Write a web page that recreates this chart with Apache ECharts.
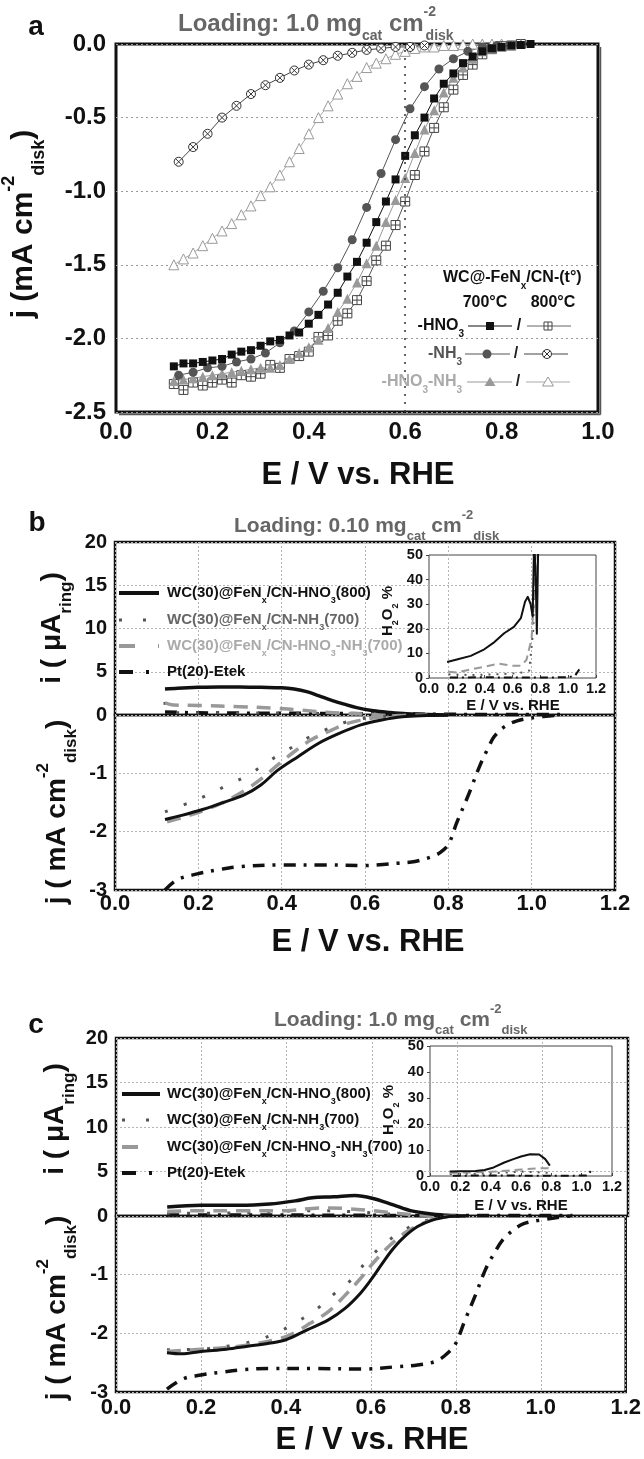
<!DOCTYPE html>
<html><head><meta charset="utf-8">
<script src="https://cdn.jsdelivr.net/npm/echarts/dist/echarts.min.js"></script>
<style>html,body{margin:0;padding:0;background:#fff}#c{width:644px;height:1459px}</style>
</head><body><div id="c"></div>
<script>
const FONT = '"Liberation Sans", Arial, Helvetica, sans-serif';

// ---------- Panel a data (E / V, j / mA cm-2) ----------
const aX38 = [0.12,0.14,0.16,0.18,0.20,0.22,0.24,0.26,0.28,0.30,0.32,0.34,0.36,0.38,0.40,0.42,0.44,0.46,0.48,0.50,0.52,0.54,0.56,0.58,0.60,0.62,0.64,0.66,0.68,0.70,0.72,0.74,0.76,0.78,0.80,0.82,0.84,0.86];
const aX37 = [0.12,0.14,0.16,0.18,0.20,0.22,0.24,0.26,0.28,0.30,0.32,0.34,0.36,0.38,0.40,0.42,0.44,0.46,0.48,0.50,0.52,0.54,0.56,0.58,0.60,0.62,0.64,0.66,0.68,0.70,0.72,0.74,0.76,0.78,0.80,0.82,0.84];
const aX35 = [0.12,0.14,0.16,0.18,0.20,0.22,0.24,0.26,0.28,0.30,0.32,0.34,0.36,0.38,0.40,0.42,0.44,0.46,0.48,0.50,0.52,0.54,0.56,0.58,0.60,0.62,0.64,0.66,0.68,0.70,0.72,0.74,0.76,0.78,0.80];
const aXNH3_700 = [0.13,0.16,0.19,0.22,0.25,0.28,0.31,0.34,0.37,0.40,0.43,0.46,0.49,0.52,0.55,0.58,0.61,0.64,0.67,0.70,0.73,0.76,0.79];
const aXNH3_800 = [0.13,0.16,0.19,0.22,0.25,0.28,0.31,0.34,0.37,0.40,0.43,0.46,0.49,0.52,0.55,0.58,0.61,0.64];

const aHNO3_700 = [-2.19,-2.17,-2.17,-2.16,-2.15,-2.14,-2.11,-2.09,-2.08,-2.05,-2.02,-2.01,-1.98,-1.96,-1.90,-1.84,-1.77,-1.69,-1.58,-1.48,-1.35,-1.21,-1.07,-0.92,-0.76,-0.62,-0.50,-0.37,-0.27,-0.20,-0.13,-0.085,-0.05,-0.03,-0.02,-0.01,-0.007,0];
const aHNO3_800 = [-2.31,-2.35,-2.30,-2.32,-2.30,-2.28,-2.30,-2.25,-2.26,-2.24,-2.18,-2.20,-2.14,-2.12,-2.09,-1.99,-1.98,-1.88,-1.83,-1.74,-1.61,-1.47,-1.37,-1.23,-1.07,-0.89,-0.73,-0.57,-0.43,-0.31,-0.21,-0.14,-0.07,-0.035,-0.015,-0.01,0];
const aHN_700 = [-2.29,-2.28,-2.27,-2.26,-2.25,-2.24,-2.23,-2.22,-2.21,-2.20,-2.20,-2.18,-2.14,-2.10,-2.06,-2.01,-1.93,-1.82,-1.73,-1.62,-1.49,-1.37,-1.21,-1.06,-0.91,-0.74,-0.58,-0.45,-0.33,-0.23,-0.16,-0.10,-0.05,-0.03,-0.02,-0.01,0];
const aHN_800 = [-1.50,-1.46,-1.42,-1.37,-1.32,-1.27,-1.22,-1.16,-1.10,-1.03,-0.97,-0.89,-0.80,-0.71,-0.61,-0.50,-0.42,-0.34,-0.27,-0.22,-0.16,-0.13,-0.10,-0.07,-0.05,-0.03,-0.02,-0.02,-0.01,-0.01,-0.005,0,0,0,0];
const aNH3_700 = [-2.25,-2.23,-2.20,-2.19,-2.16,-2.14,-2.10,-2.03,-1.95,-1.82,-1.68,-1.52,-1.33,-1.11,-0.88,-0.65,-0.44,-0.29,-0.17,-0.10,-0.05,-0.02,-0.01];
const aNH3_800 = [-0.80,-0.70,-0.61,-0.50,-0.42,-0.34,-0.28,-0.23,-0.18,-0.14,-0.11,-0.08,-0.06,-0.04,-0.03,-0.02,-0.02,-0.01];

// ---------- Panel b data ----------
const bRing_HNO3 = [[0.12,3.0],[0.15,3.1],[0.2,3.2],[0.25,3.25],[0.3,3.25],[0.35,3.2],[0.4,3.15],[0.43,3.0],[0.46,2.7],[0.49,2.2],[0.52,1.7],[0.55,1.25],[0.58,0.85],[0.62,0.5],[0.66,0.3],[0.7,0.15],[0.75,0.05],[0.8,0.0]];
const bRing_NH3 = [[0.12,1.5],[0.125,0.3],[0.2,0.25],[0.3,0.25],[0.4,0.22],[0.5,0.18],[0.6,0.1],[0.7,0.05],[0.8,0]];
const bRing_HN = [[0.12,1.4],[0.14,1.15],[0.2,1.1],[0.3,0.95],[0.38,0.8],[0.45,0.55],[0.5,0.35],[0.55,0.2],[0.62,0.08],[0.7,0.02],[0.8,0]];
const bRing_Pt = [[0.12,0.35],[0.2,0.25],[0.4,0.2],[0.6,0.15],[0.8,0.08],[1.0,0.05],[1.07,0.05]];
const bDisk_HNO3 = [[0.12,-1.79],[0.16,-1.72],[0.21,-1.62],[0.26,-1.50],[0.31,-1.37],[0.35,-1.20],[0.39,-0.95],[0.44,-0.71],[0.49,-0.48],[0.54,-0.31],[0.59,-0.17],[0.64,-0.085],[0.69,-0.03],[0.75,-0.01],[0.8,0]];
const bDisk_NH3 = [[0.12,-1.66],[0.165,-1.54],[0.22,-1.38],[0.265,-1.22],[0.32,-1.03],[0.367,-0.80],[0.414,-0.60],[0.46,-0.40],[0.51,-0.24],[0.56,-0.11],[0.62,-0.04],[0.7,-0.01],[0.8,0]];
const bDisk_HN = [[0.125,-1.83],[0.17,-1.74],[0.22,-1.62],[0.27,-1.46],[0.31,-1.30],[0.35,-1.10],[0.39,-0.86],[0.43,-0.63],[0.47,-0.43],[0.52,-0.26],[0.56,-0.14],[0.62,-0.05],[0.68,-0.01],[0.75,0]];
const bDisk_Pt = [[0.12,-3.0],[0.15,-2.82],[0.2,-2.72],[0.25,-2.65],[0.3,-2.6],[0.4,-2.57],[0.5,-2.57],[0.6,-2.58],[0.65,-2.56],[0.68,-2.54],[0.72,-2.51],[0.76,-2.43],[0.78,-2.36],[0.8,-2.22],[0.82,-1.85],[0.85,-1.34],[0.875,-0.88],[0.9,-0.5],[0.91,-0.37],[0.935,-0.2],[0.965,-0.1],[1.0,-0.05],[1.07,0]];
const ibHNO3 = [[0.13,6.5],[0.2,7.5],[0.3,9],[0.39,11.4],[0.47,14.6],[0.54,18.2],[0.61,20.8],[0.66,24.3],[0.69,31],[0.71,33],[0.73,30],[0.745,25],[0.755,55],[0.765,45],[0.775,18],[0.785,55]];
const ibHN = [[0.14,2.5],[0.2,2.2],[0.3,3.5],[0.4,4.6],[0.5,5.8],[0.6,5],[0.66,5],[0.7,7.3],[0.737,16],[0.755,32],[0.77,55]];
const ibNH3 = [[0.14,1.5],[0.3,1.2],[0.5,1.5],[0.65,2],[0.72,3],[0.75,20],[0.76,55]];
const ibPt = [[0.15,0.2],[0.4,0.3],[0.6,0.2],[0.8,0.2],[1.0,0.3],[1.05,1],[1.08,3.5]];

// ---------- Panel c data ----------
const cRing_HNO3 = [[0.12,1.0],[0.2,1.2],[0.29,1.2],[0.36,1.35],[0.42,1.7],[0.46,2.05],[0.51,2.15],[0.56,2.3],[0.6,2.0],[0.65,1.25],[0.69,0.6],[0.74,0.22],[0.785,0.04],[0.82,0]];
const cRing_NH3 = [[0.12,0.3],[0.3,0.35],[0.45,0.6],[0.55,0.5],[0.65,0.2],[0.78,0]];
const cRing_HN = [[0.12,0.5],[0.2,0.6],[0.3,0.6],[0.4,0.6],[0.46,0.85],[0.5,0.9],[0.55,0.8],[0.6,0.6],[0.65,0.35],[0.7,0.15],[0.78,0]];
const cRing_Pt = [[0.12,0.1],[0.4,0.1],[0.8,0.05],[1.07,0.05]];
const cDisk_HNO3 = [[0.12,-2.33],[0.155,-2.35],[0.2,-2.31],[0.26,-2.27],[0.31,-2.22],[0.36,-2.17],[0.4,-2.11],[0.45,-1.94],[0.5,-1.77],[0.54,-1.57],[0.575,-1.32],[0.6,-1.09],[0.625,-0.83],[0.65,-0.58],[0.675,-0.38],[0.71,-0.18],[0.745,-0.07],[0.785,-0.01],[0.81,0]];
const cDisk_NH3 = [[0.12,-2.28],[0.2,-2.27],[0.28,-2.2],[0.32,-2.14],[0.37,-2.02],[0.42,-1.83],[0.47,-1.6],[0.515,-1.32],[0.558,-1.06],[0.592,-0.75],[0.633,-0.47],[0.675,-0.25],[0.72,-0.1],[0.77,-0.02],[0.8,0]];
const cDisk_HN = [[0.12,-2.31],[0.2,-2.27],[0.29,-2.22],[0.38,-2.10],[0.42,-1.99],[0.457,-1.83],[0.5,-1.63],[0.537,-1.37],[0.575,-1.07],[0.608,-0.78],[0.645,-0.50],[0.684,-0.27],[0.73,-0.10],[0.77,-0.01],[0.8,0]];
const cDisk_Pt = [[0.12,-2.95],[0.16,-2.77],[0.2,-2.71],[0.25,-2.66],[0.3,-2.62],[0.36,-2.6],[0.47,-2.6],[0.58,-2.61],[0.66,-2.57],[0.71,-2.54],[0.755,-2.47],[0.785,-2.31],[0.8,-2.17],[0.822,-1.77],[0.845,-1.37],[0.87,-0.91],[0.89,-0.64],[0.91,-0.41],[0.935,-0.24],[0.96,-0.13],[1.0,-0.07],[1.045,-0.02],[1.07,0]];
const icHNO3 = [[0.13,1.7],[0.2,1.8],[0.3,1.9],[0.36,2.3],[0.42,3.3],[0.49,5.2],[0.55,6.5],[0.6,7.5],[0.66,8.4],[0.72,8.3],[0.76,6.5],[0.79,4]];
const icHN = [[0.13,1.2],[0.2,1.3],[0.3,1.4],[0.4,1.6],[0.5,2],[0.6,2.5],[0.7,2.9],[0.78,3],[0.8,2.5]];
const icNH3 = [[0.13,0.8],[0.3,0.9],[0.5,1.3],[0.6,1.7],[0.7,1.5],[0.78,1.2]];
const icPt = [[0.15,0.1],[0.4,0.2],[0.7,0.1],[0.9,0.1],[1.03,0.2],[1.05,1],[1.07,3]];

function zip(xs, ys){ return xs.map((x,i)=>[x, ys[i]]); }

const GRID_DOT = {color:'#b5b5b5', type:[2,2], width:1};
const SYM_BOX = 'path://M0,0L10,0L10,10L0,10Z M5,0L5,10 M0,5L10,5';
const SYM_OX = 'path://M10,5A5,5,0,1,1,0,5A5,5,0,1,1,10,5Z M1.46,1.46L8.54,8.54 M8.54,1.46L1.46,8.54';

const grids = [
  {left:116, top:44, width:482, height:368, show:true, borderColor:'#111', borderWidth:3},
  {left:115, top:542, width:500, height:173, show:true, borderColor:'#111', borderWidth:2.5},
  {left:115, top:715, width:500, height:175, show:true, borderColor:'#111', borderWidth:2.5},
  {left:429, top:555, width:167, height:123, show:true, borderColor:'#444', borderWidth:1},
  {left:116, top:1038, width:512, height:178, show:true, borderColor:'#111', borderWidth:2.5},
  {left:116, top:1216, width:512, height:176, show:true, borderColor:'#111', borderWidth:2.5},
  {left:430, top:1046, width:182, height:130, show:true, borderColor:'#444', borderWidth:1}
];

function lab(size, margin, fmt, extra){
  return Object.assign({show:true, fontFamily:FONT, fontWeight:'bold', fontSize:size, color:'#111', margin, formatter:fmt}, extra||{});
}
const f1 = v => (Math.abs(v) < 1e-9 ? 0 : v).toFixed(1);
const f0 = v => String(Math.round(v));

function ax(gi, min, max, interval, label, split, tick){
  return {type:'value', gridIndex:gi, min, max, interval,
    axisLine:{show:false},
    axisTick: tick || {show:false},
    axisLabel: label || {show:false},
    splitLine: split ? {show:true, lineStyle:split} : {show:false}};
}

const xAxis = [
  ax(0, 0, 1, 0.2, lab(24, 8, f1)),
  ax(1, 0, 1.2, 0.2, null, GRID_DOT),
  ax(2, 0, 1.2, 0.2, lab(22, 3, f1), GRID_DOT),
  ax(3, 0, 1.2, 0.2, lab(14.5, 3, f1), null, {show:true, inside:true, length:3, lineStyle:{color:'#444'}}),
  ax(4, 0, 1.2, 0.2, null, GRID_DOT),
  ax(5, 0, 1.2, 0.2, lab(22, 5, f1), GRID_DOT),
  ax(6, 0, 1.2, 0.2, lab(14.5, 3, f1), null, {show:true, inside:true, length:3, lineStyle:{color:'#444'}})
];
const yAxis = [
  ax(0, -2.5, 0, 0.5, lab(24, 10, f1), {color:'#9a9a9a', type:[2,3], width:1}),
  ax(1, 0, 20, 5, lab(20, 8, f0), GRID_DOT),
  ax(2, -3, 0, 1, lab(20, 8, f0, {showMaxLabel:false}), GRID_DOT),
  ax(3, 0, 50, 10, lab(14.5, 6, f0), null, {show:true, inside:false, length:3, lineStyle:{color:'#444'}}),
  ax(4, 0, 20, 5, lab(20, 8, f0), GRID_DOT),
  ax(5, -3, 0, 1, lab(20, 8, f0, {showMaxLabel:false}), GRID_DOT),
  ax(6, 0, 50, 10, lab(14.5, 6, f0), null, {show:true, inside:false, length:3, lineStyle:{color:'#444'}})
];

function mk(i, data, symbol, size, lineColor, itemStyle, extra){
  return Object.assign({type:'line', xAxisIndex:i, yAxisIndex:i, data, symbol, symbolSize:size, showSymbol:true, showAllSymbol:true,
    silent:true, lineStyle:{color:lineColor, width:1}, itemStyle}, extra||{});
}
function ln(i, data, color, width, dash, smooth){
  return {type:'line', xAxisIndex:i, yAxisIndex:i, data, showSymbol:false, symbol:'none', silent:true,
    smooth: smooth === undefined ? 0.35 : smooth,
    lineStyle:{color, width, type: dash || 'solid', cap:'butt', join:'round'}};
}
const D_NH3 = [3, 17], D_HN = [14, 9], D_PT = [12, 8, 3, 8];

const series = [
  mk(0, zip(aX35, aHN_800), 'triangle', 10, '#aaa', {color:'#fff', borderColor:'#999', borderWidth:1},
     {markLine:{silent:true, symbol:'none', label:{show:false}, lineStyle:{color:'#333', type:[2,6], width:1.5}, data:[{xAxis:0.6}]}}),
  mk(0, zip(aXNH3_800, aNH3_800), SYM_OX, 9, '#444', {color:'#fff', borderColor:'#333', borderWidth:1}),
  mk(0, zip(aX37, aHNO3_800), SYM_BOX, 9, '#555', {color:'#fff', borderColor:'#444', borderWidth:1}),
  mk(0, zip(aX37, aHN_700), 'triangle', 10, '#999', {color:'#999'}),
  mk(0, zip(aXNH3_700, aNH3_700), 'circle', 9, '#555', {color:'#555'}),
  mk(0, zip(aX38, aHNO3_700), 'rect', 8, '#111', {color:'#111'}),

  ln(1, bRing_Pt, '#111', 3.5, D_PT),
  ln(1, bRing_NH3, '#555', 3, D_NH3),
  ln(1, bRing_HN, '#999', 3.5, D_HN),
  ln(1, bRing_HNO3, '#111', 3.5),
  ln(2, bDisk_Pt, '#111', 3.5, D_PT),
  ln(2, bDisk_NH3, '#555', 3, D_NH3),
  ln(2, bDisk_HN, '#999', 3.5, D_HN),
  ln(2, bDisk_HNO3, '#111', 3),
  ln(3, ibPt, '#111', 2, [8,4,2,4], false),
  ln(3, ibNH3, '#555', 2, [2,6], false),
  ln(3, ibHN, '#999', 2, [8,5], false),
  ln(3, ibHNO3, '#111', 2, 'solid', false),

  ln(4, cRing_Pt, '#111', 3.5, D_PT),
  ln(4, cRing_NH3, '#555', 3, D_NH3),
  ln(4, cRing_HN, '#999', 3.5, D_HN),
  ln(4, cRing_HNO3, '#111', 3.5),
  ln(5, cDisk_Pt, '#111', 3.5, D_PT),
  ln(5, cDisk_NH3, '#555', 3, D_NH3),
  ln(5, cDisk_HN, '#999', 3.5, D_HN),
  ln(5, cDisk_HNO3, '#111', 3),
  ln(6, icPt, '#111', 2, [8,4,2,4], false),
  ln(6, icNH3, '#555', 2, [2,6], false),
  ln(6, icHN, '#999', 2, [8,5], false),
  ln(6, icHNO3, '#111', 2, 'solid', false)
];

// ---------- text helpers ----------
function R(size, color, lh){ return {fontSize:size, fontWeight:'bold', fontFamily:FONT, fill:color, lineHeight: lh || Math.round(size*1.6)}; }
function SUB(size, color){ return {fontSize:size, fontWeight:'bold', fontFamily:FONT, fill:color, lineHeight:size, verticalAlign:'bottom'}; }
function SUP(size, color){ return {fontSize:size, fontWeight:'bold', fontFamily:FONT, fill:color, lineHeight:size, verticalAlign:'top'}; }
function RS(size, color){
  const s = Math.round(size*0.6);
  const q = SUP(s, color); q.width = 2;
  return {m:R(size,color), s:SUB(s,color), p:SUP(s,color), q};
}
function T(x, y, text, size, color, opt){
  opt = opt || {};
  return {type:'text', x, y, rotation: opt.rot || 0, silent:true, z:100,
    style:{text, rich:RS(size, color), align: opt.align || 'left', verticalAlign:'middle'}};
}
function L(x1, y1, x2, y2, color, w, dash, z){
  return {type:'line', silent:true, z: z || 100, shape:{x1,y1,x2,y2}, style:{stroke:color, lineWidth:w, lineDash:dash || null}};
}
const ROT = Math.PI/2;

const graphic = [];
// ----- panel a texts -----
graphic.push(T(36, 27, '{m|a}', 28, '#111', {align:'center'}));
graphic.push(T(178, 24, '{m|Loading: 1.0 mg}{s|cat}{m| cm}{q|-2}{s|disk}', 24, '#666'));
graphic.push(T(24, 224, '{m|j (mA cm}{p|-2}{s|disk}{m|)}', 30, '#111', {align:'center', rot:ROT}));
graphic.push(T(358, 475, '{m|E / V vs. RHE}', 31, '#111', {align:'center'}));
// frame shadow (right / bottom)
graphic.push(L(600.5, 47, 600.5, 414.5, '#555', 1.5));
graphic.push(L(119, 414.5, 600.5, 414.5, '#555', 1.5));
// legend a
graphic.push(T(443, 278, '{m|WC@-FeN}{s|x}{m|/CN-(t°)}', 16, '#111'));
graphic.push(T(485, 303, '{m|700°C}', 16, '#111', {align:'center'}));
graphic.push(T(553, 303, '{m|800°C}', 16, '#111', {align:'center'}));
// row 1
graphic.push(T(464, 326, '{m|-HNO}{s|3}', 16, '#111', {align:'right'}));
graphic.push(L(468, 326, 512, 326, '#111', 1));
graphic.push({type:'rect', silent:true, z:101, shape:{x:486, y:322, width:8, height:8}, style:{fill:'#111'}});
graphic.push(T(519, 326, '{m|/}', 16, '#111', {align:'center'}));
graphic.push(L(527, 326, 571, 326, '#666', 1));
graphic.push({type:'rect', silent:true, z:101, shape:{x:544, y:322, width:8, height:8}, style:{fill:'#fff', stroke:'#444', lineWidth:1}});
graphic.push(L(548, 322, 548, 330, '#444', 1, null, 102));
graphic.push(L(544, 326, 552, 326, '#444', 1, null, 102));
// row 2
graphic.push(T(462, 354, '{m|-NH}{s|3}', 16, '#555', {align:'right'}));
graphic.push(L(465, 354, 510, 354, '#555', 1));
graphic.push({type:'circle', silent:true, z:101, shape:{cx:487, cy:354, r:4.5}, style:{fill:'#555'}});
graphic.push(T(516, 354, '{m|/}', 16, '#222', {align:'center'}));
graphic.push(L(524, 354, 568, 354, '#444', 1));
graphic.push({type:'circle', silent:true, z:101, shape:{cx:547, cy:354, r:4.5}, style:{fill:'#fff', stroke:'#333', lineWidth:1}});
graphic.push(L(543.8, 350.8, 550.2, 357.2, '#333', 1, null, 102));
graphic.push(L(550.2, 350.8, 543.8, 357.2, '#333', 1, null, 102));
// row 3
graphic.push(T(462, 382, '{m|-HNO}{s|3}{m|-NH}{s|3}', 16, '#aaa', {align:'right'}));
graphic.push(L(467, 382, 512, 382, '#999', 1));
graphic.push({type:'polygon', silent:true, z:101, shape:{points:[[490,377],[495.5,386],[484.5,386]]}, style:{fill:'#999'}});
graphic.push(T(518, 382, '{m|/}', 16, '#222', {align:'center'}));
graphic.push(L(526, 382, 570, 382, '#aaa', 1));
graphic.push({type:'polygon', silent:true, z:101, shape:{points:[[548,377],[553.5,386],[542.5,386]]}, style:{fill:'#fff', stroke:'#999', lineWidth:1}});

// ----- panel b texts -----
graphic.push(T(37, 523, '{m|b}', 28, '#111', {align:'center'}));
graphic.push(T(234, 526, '{m|Loading: 0.10 mg}{s|cat}{m| cm}{p|-2}{s|disk}', 21, '#666'));
graphic.push(T(52, 628, '{m|i ( μA}{s|ring}{m|)}', 28, '#111', {align:'center', rot:ROT}));
graphic.push(T(57, 812, '{m|j ( mA cm}{p|-2}{s|disk}{m|)}', 28, '#111', {align:'center', rot:ROT}));
graphic.push(T(368, 942, '{m|E / V vs. RHE}', 31, '#111', {align:'center'}));
graphic.push(T(513, 706, '{m|E / V vs. RHE}', 15, '#111', {align:'center'}));
graphic.push(T(388, 611, '{m|H}{s|2}{m|O}{s|2}{m| %}', 15, '#111', {align:'center', rot:ROT}));
// legend b
graphic.push(L(119, 593, 159, 593, '#111', 4));
graphic.push(T(167, 593, '{m|WC(30)@FeN}{s|x}{m|/CN-HNO}{s|3}{m|(800)}', 15, '#111'));
graphic.push(L(119, 620, 159, 620, '#555', 3, [3, 21]));
graphic.push(T(167, 620, '{m|WC(30)@FeN}{s|x}{m|/CN-NH}{s|3}{m|(700)}', 15, '#666'));
graphic.push(L(119, 646, 159, 646, '#999', 4, [16, 23]));
graphic.push(T(167, 646, '{m|WC(30)@FeN}{s|x}{m|/CN-HNO}{s|3}{m|-NH}{s|3}{m|(700)}', 15, '#aaa'));
graphic.push(L(119, 672, 159, 672, '#111', 4, [14, 13, 3, 20]));
graphic.push(T(167, 672, '{m|Pt(20)-Etek}', 15, '#111'));

// ----- panel c texts -----
graphic.push(T(36, 1025, '{m|c}', 28, '#111', {align:'center'}));
graphic.push(T(274, 1020, '{m|Loading: 1.0 mg}{s|cat}{m| cm}{p|-2}{s|disk}', 21, '#666'));
graphic.push(T(55, 1119, '{m|i ( μA}{s|ring}{m|)}', 28, '#111', {align:'center', rot:ROT}));
graphic.push(T(57, 1308, '{m|j ( mA cm}{p|-2}{s|disk}{m|)}', 28, '#111', {align:'center', rot:ROT}));
graphic.push(T(372, 1440, '{m|E / V vs. RHE}', 31, '#111', {align:'center'}));
graphic.push(T(521, 1206, '{m|E / V vs. RHE}', 15, '#111', {align:'center'}));
graphic.push(T(389, 1110, '{m|H}{s|2}{m|O}{s|2}{m| %}', 15, '#111', {align:'center', rot:ROT}));
// legend c
graphic.push(L(122, 1094, 160, 1094, '#111', 4));
graphic.push(T(167, 1094, '{m|WC(30)@FeN}{s|x}{m|/CN-HNO}{s|3}{m|(800)}', 15, '#111'));
graphic.push(L(122, 1120, 160, 1120, '#555', 3, [3, 21]));
graphic.push(T(167, 1120, '{m|WC(30)@FeN}{s|x}{m|/CN-NH}{s|3}{m|(700)}', 15, '#111'));
graphic.push(L(122, 1147, 160, 1147, '#999', 4, [16, 23]));
graphic.push(T(167, 1147, '{m|WC(30)@FeN}{s|x}{m|/CN-HNO}{s|3}{m|-NH}{s|3}{m|(700)}', 15, '#111'));
graphic.push(L(122, 1173, 160, 1173, '#111', 4, [14, 13, 3, 20]));
graphic.push(T(167, 1173, '{m|Pt(20)-Etek}', 15, '#111'));

const chart = echarts.init(document.getElementById('c'), null, {renderer:'canvas'});
chart.setOption({
  animation:false,
  backgroundColor:'#fff',
  grid: grids,
  xAxis, yAxis, series, graphic
});
</script></body></html>
